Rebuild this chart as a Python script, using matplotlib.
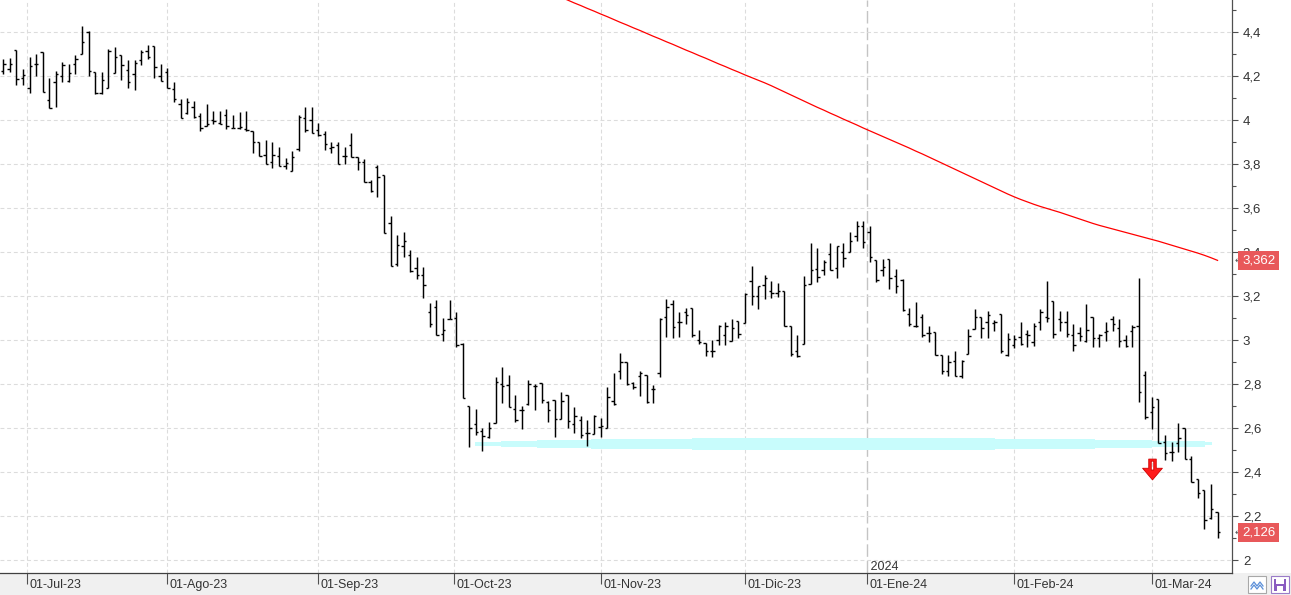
import numpy as np
import pandas as pd
import matplotlib
matplotlib.use('Agg')
import matplotlib.pyplot as plt
import matplotlib.transforms as mtransforms
from matplotlib.patches import Rectangle
from matplotlib.path import Path
from matplotlib.lines import Line2D

# ---------------- data ----------------
dates = pd.bdate_range('2023-06-27', '2024-03-15', freq='C',
                       holidays=['2023-12-25', '2023-12-26', '2024-01-01'])

opens = [4.223, 4.233, 4.317, 4.189, 4.147, 4.256, 4.309, 4.089, 4.174, 4.200,
         4.177, 4.256, 4.298, 4.402, 4.218, 4.124, 4.147, 4.215, 4.295, 4.226,
         4.211, 4.273, 4.314, 4.336, 4.200, 4.220, 4.139, 4.074, 4.033, 4.059,
         4.018, 3.973, 4.000, 3.986, 4.021, 3.965, 3.962, 3.958, 3.952, 3.901,
         3.841, 3.808, 3.838, 3.792, 3.767, 3.868, 4.009, 4.002, 3.955, 3.936,
         3.871, 3.886, 3.835, 3.886, 3.830, 3.811, 3.720, 3.785, 3.750, 3.532,
         3.346, 3.429, 3.386, 3.327, 3.297, 3.129, 3.152, 3.027, 3.096, 3.099,
         2.982, 2.702, 2.618, 2.585, 2.561, 2.621, 2.798, 2.795, 2.686, 2.682,
         2.709, 2.791, 2.803, 2.720, 2.727, 2.640, 2.750, 2.618, 2.636, 2.576,
         2.573, 2.606, 2.598, 2.724, 2.861, 2.902, 2.803, 2.836, 2.841, 2.776,
         2.849, 3.103, 3.164, 3.083, 3.129, 3.144, 2.999, 2.985, 2.952, 2.999,
         3.023, 2.997, 3.085, 3.077, 3.267, 3.201, 3.251, 3.221, 3.214, 3.221,
         3.065, 2.948, 2.982, 3.256, 3.323, 3.317, 3.392, 3.327, 3.398, 3.400,
         3.474, 3.520, 3.489, 3.365, 3.320, 3.368, 3.289, 3.274, 3.120, 3.065,
         3.105, 3.032, 3.035, 2.933, 2.858, 2.906, 2.835, 2.936, 3.052, 3.103,
         3.080, 3.079, 3.118, 2.932, 2.977, 3.015, 3.027, 2.992, 3.083, 3.106,
         3.177, 3.094, 3.080, 3.023, 3.033, 2.995, 3.103, 3.008, 3.038, 3.094,
         3.056, 3.000, 3.041, 3.064, 2.841, 2.674, 2.730, 2.538, 2.492, 2.530,
         2.598, 2.458, 2.367, 2.318, 2.189, 2.217]
highs = [4.276, 4.280, 4.317, 4.230, 4.286, 4.298, 4.309, 4.189, 4.223, 4.264,
         4.253, 4.295, 4.427, 4.405, 4.218, 4.218, 4.324, 4.332, 4.295, 4.273,
         4.271, 4.317, 4.339, 4.336, 4.253, 4.235, 4.173, 4.094, 4.098, 4.086,
         4.033, 4.071, 4.041, 4.041, 4.048, 4.021, 4.038, 4.041, 3.952, 3.901,
         3.911, 3.901, 3.879, 3.826, 3.861, 4.024, 4.061, 4.061, 3.986, 3.952,
         3.899, 3.901, 3.879, 3.941, 3.833, 3.823, 3.729, 3.797, 3.752, 3.565,
         3.477, 3.489, 3.409, 3.379, 3.333, 3.168, 3.183, 3.099, 3.183, 3.129,
         2.985, 2.702, 2.687, 2.600, 2.629, 2.830, 2.876, 2.841, 2.750, 2.700,
         2.818, 2.800, 2.803, 2.723, 2.727, 2.762, 2.750, 2.697, 2.655, 2.637,
         2.659, 2.647, 2.785, 2.848, 2.942, 2.902, 2.810, 2.861, 2.841, 2.795,
         3.098, 3.186, 3.182, 3.126, 3.144, 3.144, 3.046, 2.988, 3.000, 3.068,
         3.080, 3.095, 3.085, 3.214, 3.338, 3.247, 3.297, 3.267, 3.259, 3.221,
         3.065, 3.024, 3.292, 3.441, 3.418, 3.365, 3.441, 3.429, 3.441, 3.489,
         3.542, 3.539, 3.520, 3.365, 3.368, 3.368, 3.323, 3.279, 3.145, 3.173,
         3.120, 3.065, 3.035, 2.933, 2.933, 2.951, 2.910, 3.052, 3.141, 3.106,
         3.132, 3.091, 3.118, 3.034, 3.023, 3.083, 3.045, 3.079, 3.140, 3.268,
         3.177, 3.132, 3.132, 3.073, 3.058, 3.164, 3.103, 3.027, 3.080, 3.111,
         3.094, 3.023, 3.068, 3.280, 2.861, 2.739, 2.730, 2.568, 2.538, 2.621,
         2.598, 2.473, 2.367, 2.318, 2.344, 2.217]
lows = [4.208, 4.220, 4.158, 4.158, 4.124, 4.200, 4.127, 4.053, 4.061, 4.174,
        4.174, 4.208, 4.298, 4.200, 4.120, 4.117, 4.147, 4.215, 4.182, 4.147,
        4.136, 4.248, 4.276, 4.189, 4.177, 4.147, 4.082, 4.008, 4.026, 4.011,
        3.950, 3.973, 3.980, 3.980, 3.958, 3.962, 3.958, 3.950, 3.850, 3.835,
        3.800, 3.780, 3.789, 3.777, 3.767, 3.858, 3.944, 3.941, 3.926, 3.865,
        3.850, 3.800, 3.800, 3.830, 3.773, 3.717, 3.671, 3.648, 3.486, 3.335,
        3.335, 3.376, 3.308, 3.277, 3.191, 3.058, 3.023, 2.994, 3.096, 2.967,
        2.735, 2.512, 2.568, 2.494, 2.553, 2.621, 2.712, 2.697, 2.629, 2.594,
        2.705, 2.682, 2.712, 2.629, 2.558, 2.639, 2.598, 2.579, 2.553, 2.520,
        2.573, 2.558, 2.598, 2.705, 2.821, 2.795, 2.776, 2.745, 2.712, 2.715,
        2.830, 3.012, 3.008, 3.012, 3.071, 3.012, 2.982, 2.927, 2.921, 2.977,
        2.977, 2.997, 3.009, 3.077, 3.161, 3.141, 3.186, 3.191, 3.195, 3.065,
        2.929, 2.923, 2.982, 3.256, 3.262, 3.297, 3.317, 3.282, 3.332, 3.400,
        3.448, 3.418, 3.353, 3.262, 3.289, 3.232, 3.214, 3.133, 3.062, 3.059,
        3.014, 2.991, 2.933, 2.847, 2.838, 2.835, 2.827, 2.936, 3.052, 3.011,
        3.011, 3.043, 2.939, 2.929, 2.962, 2.977, 2.970, 2.973, 3.045, 3.083,
        3.011, 3.043, 3.012, 2.952, 2.997, 2.992, 2.970, 2.970, 2.997, 3.041,
        2.970, 2.970, 2.970, 2.720, 2.641, 2.594, 2.530, 2.455, 2.452, 2.492,
        2.458, 2.353, 2.283, 2.140, 2.185, 2.098]
closes = [4.253, 4.253, 4.185, 4.203, 4.245, 4.256, 4.129, 4.053, 4.208, 4.250,
          4.215, 4.276, 4.356, 4.223, 4.124, 4.180, 4.314, 4.286, 4.250, 4.174,
          4.261, 4.311, 4.286, 4.241, 4.177, 4.147, 4.094, 4.011, 4.082, 4.015,
          3.962, 3.983, 3.997, 3.983, 3.973, 3.965, 3.968, 3.953, 3.899, 3.838,
          3.800, 3.841, 3.789, 3.803, 3.830, 4.015, 3.955, 3.941, 3.932, 3.891,
          3.876, 3.800, 3.835, 3.830, 3.808, 3.717, 3.679, 3.739, 3.486, 3.335,
          3.432, 3.449, 3.315, 3.296, 3.250, 3.073, 3.023, 3.046, 3.096, 2.977,
          2.735, 2.600, 2.580, 2.562, 2.598, 2.808, 2.791, 2.697, 2.636, 2.682,
          2.798, 2.791, 2.727, 2.682, 2.641, 2.723, 2.633, 2.655, 2.568, 2.579,
          2.655, 2.611, 2.739, 2.709, 2.902, 2.798, 2.788, 2.852, 2.720, 2.776,
          3.094, 3.149, 3.058, 3.083, 3.114, 3.023, 2.992, 2.950, 2.952, 3.064,
          3.065, 3.053, 3.029, 3.211, 3.201, 3.244, 3.282, 3.214, 3.224, 3.065,
          2.938, 2.929, 3.251, 3.320, 3.286, 3.353, 3.320, 3.426, 3.373, 3.449,
          3.520, 3.445, 3.376, 3.271, 3.332, 3.282, 3.244, 3.138, 3.073, 3.065,
          3.021, 3.032, 2.933, 2.858, 2.900, 2.838, 2.906, 3.020, 3.105, 3.053,
          3.114, 3.083, 2.950, 3.005, 3.003, 2.982, 3.023, 3.064, 3.129, 3.099,
          3.027, 3.083, 3.027, 2.977, 3.018, 3.045, 3.008, 3.023, 3.041, 3.071,
          2.995, 2.973, 3.060, 2.765, 2.649, 2.694, 2.530, 2.485, 2.489, 2.556,
          2.458, 2.356, 2.303, 2.182, 2.230, 2.126]

# moving average (red line), aligned with the last len(ma200) bars
ma200 = [4.558, 4.545, 4.532, 4.520, 4.507, 4.495, 4.482, 4.470, 4.457, 4.444,
         4.432, 4.419, 4.407, 4.394, 4.381, 4.369, 4.356, 4.344, 4.331, 4.318,
         4.306, 4.293, 4.281, 4.268, 4.255, 4.243, 4.230, 4.218, 4.205, 4.193,
         4.181, 4.169, 4.156, 4.142, 4.128, 4.114, 4.100, 4.086, 4.072, 4.058,
         4.045, 4.031, 4.018, 4.004, 3.991, 3.978, 3.964, 3.951, 3.938, 3.925,
         3.912, 3.899, 3.886, 3.873, 3.859, 3.846, 3.832, 3.818, 3.804, 3.790,
         3.776, 3.762, 3.748, 3.734, 3.720, 3.706, 3.692, 3.678, 3.664, 3.651,
         3.639, 3.628, 3.617, 3.607, 3.598, 3.589, 3.580, 3.570, 3.560, 3.550,
         3.540, 3.530, 3.521, 3.513, 3.505, 3.497, 3.489, 3.481, 3.473, 3.465,
         3.457, 3.449, 3.440, 3.431, 3.422, 3.413, 3.404, 3.395, 3.385, 3.374,
         3.362]

# support band (hand-drawn highlight): bar-position edges and price limits
band_edges = [71.9, 75.9, 81.3, 89.6, 105.0, 151.1, 166.3, 175.0, 183.1, 184.2]
band_low = [2.520, 2.515, 2.511, 2.505, 2.500, 2.505, 2.508, 2.515, 2.524]
band_high = [2.535, 2.540, 2.545, 2.550, 2.556, 2.550, 2.545, 2.541, 2.535]

signal_date = '2024-03-01'
signal_price = 2.413

month_starts = pd.date_range('2023-07-01', '2024-03-01', freq='MS')
month_names = {1: 'Ene', 2: 'Feb', 3: 'Mar', 4: 'Abr', 5: 'May', 6: 'Jun', 7: 'Jul',
               8: 'Ago', 9: 'Sep', 10: 'Oct', 11: 'Nov', 12: 'Dic'}

# ---------------- figure ----------------
W, H = 1291, 595
fig = plt.figure(figsize=(W / 100, H / 100), dpi=100)
fig.patch.set_facecolor('white')
strip_h = 22
plot_right = 1232
ax = fig.add_axes([0, strip_h / H, plot_right / W, (H - strip_h) / H])
ax.set_facecolor('white')
ax.set_zorder(2)

fig.patches.append(Rectangle((0, 0), 1, strip_h / H, transform=fig.transFigure,
                             facecolor='#f0f0f0', edgecolor='none', zorder=-5))

narrow = ['Liberation Sans Narrow', 'Liberation Sans', 'DejaVu Sans']
txt_col = '#333333'

x = np.arange(len(dates))
n = len(dates)

# band
for k in range(len(band_low)):
    ax.fill_between([band_edges[k], band_edges[k + 1]], band_low[k], band_high[k],
                    color='#c8fcfc', lw=0, zorder=1)

# OHLC bars
tw = 0.36
ax.vlines(x, lows, highs, color='black', lw=1.05, zorder=3)
ax.hlines(opens, x - tw, x, color='black', lw=1.0, zorder=3)
ax.hlines(closes, x, x + tw, color='black', lw=1.0, zorder=3)

# moving average
ma_x = x[n - len(ma200):]
ax.plot(ma_x, ma200, color='#ff0000', lw=0.9, zorder=4)

# signal arrow
sig_i = int(np.searchsorted(dates, pd.Timestamp(signal_date)))
verts = [(-0.36, 1.0), (0.36, 1.0), (0.36, 0.12), (0.95, 0.12), (0.0, -1.0),
         (-0.95, 0.12), (-0.36, 0.12), (-0.36, 1.0),
         (-0.12, 0.8), (-0.12, -0.05), (0.12, -0.05), (0.12, 0.8), (-0.12, 0.8)]
codes = [Path.MOVETO] + [Path.LINETO] * 6 + [Path.CLOSEPOLY] + \
        [Path.MOVETO] + [Path.LINETO] * 3 + [Path.CLOSEPOLY]
arrow_path = Path(verts, codes)
ax.plot([sig_i], [signal_price], marker=arrow_path, markersize=15,
        markerfacecolor='#ff1a1a', markeredgecolor='#d00000', markeredgewidth=0.6,
        linestyle='none', zorder=5)

# axes limits
ax.set_xlim(-0.5, 187.2)
ax.set_ylim(1.941, 4.5455)

# y axis on right
ax.yaxis.tick_right()
yt = np.round(np.arange(2.0, 4.41, 0.2), 1)
ax.set_yticks(yt)
ax.set_yticklabels([('%g' % v).replace('.', ',') for v in yt])
ax.set_yticks(np.round(np.arange(2.0, 4.51, 0.1), 1), minor=True)
ax.tick_params(axis='y', which='major', direction='out', length=4, width=0.8,
               color='#505050', pad=3.8, labelsize=9.5, labelcolor=txt_col)
ax.tick_params(axis='y', which='minor', direction='out', length=2.7, width=0.8,
               color='#505050')
for lab in ax.get_yticklabels():
    lab.set_family(narrow)

# x axis month ticks
pos = []
labels = []
for d in month_starts:
    i = int(np.searchsorted(dates, d))
    p = i if dates[i] == d else i - 0.35
    pos.append(p)
    labels.append('01-%s-%02d' % (month_names[d.month], d.year % 100))
ax.set_xticks(pos)
ax.set_xticklabels(labels)
ax.tick_params(axis='x', which='major', direction='out', length=8, width=0.8,
               color='#505050', pad=-3.5, labelsize=9, labelcolor=txt_col)
off = mtransforms.ScaledTranslation(2.5 / 100, 0, fig.dpi_scale_trans)
for lab in ax.get_xticklabels():
    lab.set_horizontalalignment('left')
    lab.set_family(narrow)
    lab.set_transform(lab.get_transform() + off)

# grids
ax.grid(axis='both', which='major', color='#dcdcdc', lw=0.8, linestyle=(0, (3.5, 2.5)))
ax.set_axisbelow(True)
jan_idx = [k for k, d in enumerate(month_starts) if d.month == 1][0]
gl = ax.xaxis.get_gridlines()[jan_idx]
gl.set_color('#c4c4c4')
gl.set_linewidth(1.0)
gl.set_linestyle((0, (9, 3)))
ax.text(pos[jan_idx], 1.941, ' %d' % month_starts[jan_idx].year, ha='left', va='bottom',
        fontsize=9, color=txt_col, family=narrow, zorder=6)

# spines
for s in ['top', 'left']:
    ax.spines[s].set_visible(False)
ax.spines['right'].set_color('#505050')
ax.spines['bottom'].set_color('#404040')
ax.spines['right'].set_linewidth(0.9)
ax.spines['bottom'].set_linewidth(0.9)

# value labels on right
blend = mtransforms.blended_transform_factory(ax.transAxes, ax.transData)
lab_x = 1242 / plot_right
for val in (ma200[-1], closes[-1]):
    ax.text(lab_x, val, ('%.3f' % val).replace('.', ','), transform=blend,
            ha='left', va='center', fontsize=9.5, color='white', family=narrow,
            clip_on=False, zorder=7,
            bbox=dict(boxstyle='square,pad=0.28', fc='#e8585a', ec='none'))
    ax.text(1235 / plot_right, val, '\u2190', transform=blend, ha='left', va='center',
            fontsize=6.5, color='#555555', clip_on=False, family='DejaVu Sans')

# bottom right buttons
def fig_rect(x0, y0, w, h, **kw):
    fig.patches.append(Rectangle((x0 / W, 1 - (y0 + h) / H), w / W, h / H,
                                 transform=fig.transFigure, **kw))

fig_rect(1248, 576, 18, 17, facecolor='white', edgecolor='#a8a8a8', lw=0.8)
fig_rect(1271, 576, 18, 17, facecolor='white', edgecolor='#9a7cc8', lw=0.8)
zx = np.array([1251, 1254, 1257, 1260, 1263]) / W
zy1 = 1 - np.array([586, 582, 586, 582, 586]) / H
zy2 = 1 - np.array([589, 585, 589, 585, 589]) / H
fig.lines.append(Line2D(zx, zy1, transform=fig.transFigure, color='#5b8fd8', lw=0.9))
fig.lines.append(Line2D(zx, zy2, transform=fig.transFigure, color='#5b8fd8', lw=0.9))
fig_rect(1274, 579, 12, 12, facecolor='#8a5cc0', edgecolor='none')
fig_rect(1276, 579, 8, 5, facecolor='white', edgecolor='none')
fig_rect(1277, 586, 6, 5, facecolor='white', edgecolor='none')

fig.savefig('out.png', dpi=100, facecolor='white')
